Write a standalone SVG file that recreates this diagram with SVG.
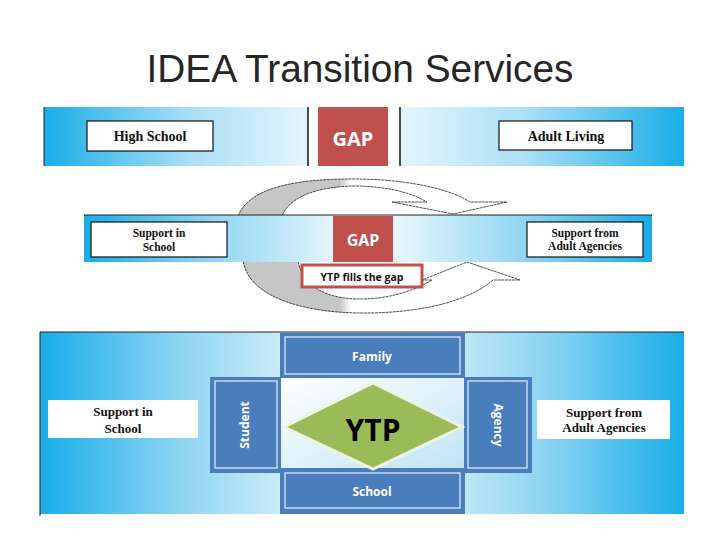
<svg xmlns="http://www.w3.org/2000/svg" width="720" height="540" viewBox="0 0 720 540">
<defs>
<linearGradient id="gL" x1="0" y1="0" x2="1" y2="0"><stop offset="0" stop-color="#18ade8"/><stop offset="0.55" stop-color="#a9dff5"/><stop offset="1" stop-color="#e4f5fc"/></linearGradient>
<linearGradient id="gR" x1="0" y1="0" x2="1" y2="0"><stop offset="0" stop-color="#e4f5fc"/><stop offset="0.45" stop-color="#a9dff5"/><stop offset="1" stop-color="#18ade8"/></linearGradient>
<linearGradient id="gM" x1="0" y1="0" x2="1" y2="0"><stop offset="0" stop-color="#18ade8"/><stop offset="0.22" stop-color="#8fd5f3"/><stop offset="0.45" stop-color="#e6f6fc"/><stop offset="0.55" stop-color="#e6f6fc"/><stop offset="0.78" stop-color="#8fd5f3"/><stop offset="1" stop-color="#18ade8"/></linearGradient>
<linearGradient id="gC" x1="0" y1="0" x2="1" y2="1"><stop offset="0" stop-color="#ffffff"/><stop offset="1" stop-color="#bfe4f5"/></linearGradient>
<linearGradient id="gArc" gradientUnits="userSpaceOnUse" x1="238" y1="0" x2="520" y2="0"><stop offset="0" stop-color="#c6c6c6"/><stop offset="0.36" stop-color="#c6c6c6"/><stop offset="0.4" stop-color="#ffffff"/><stop offset="1" stop-color="#ffffff"/></linearGradient>
</defs>
<style>
.title{font-family:"Liberation Sans",Arial,sans-serif;font-size:38px;fill:#262626}
.lbl{font-family:"Liberation Serif","DejaVu Serif",serif;font-weight:bold;fill:#111;text-anchor:middle}
.wb{font-family:"Open Sans","Liberation Sans",sans-serif;font-weight:bold;fill:#fff;text-anchor:middle}
.box{fill:#fff;stroke:#111;stroke-width:1.2}
.gap{fill:#c0504d}
.blk{fill:#4a7dbb}
.inr{fill:none;stroke:#c9d9ee;stroke-width:1.5}
.arc{stroke:#222;stroke-width:0.8;stroke-dasharray:3 0.6}
</style>
<text class="title" x="360" y="82" text-anchor="middle" textLength="427" lengthAdjust="spacingAndGlyphs">IDEA Transition Services</text>

<g id="top-band">
<rect x="44" y="107" width="264" height="59" fill="url(#gL)"/>
<rect x="400" y="107" width="284" height="59" fill="url(#gR)"/>
<line x1="44" y1="107" x2="44" y2="166" stroke="#222" stroke-width="1"/>
<line x1="308" y1="107" x2="308" y2="166" stroke="#111" stroke-width="1.5"/>
<line x1="400" y1="107" x2="400" y2="166" stroke="#111" stroke-width="1.5"/>
</g>
<g id="high-school"><rect class="box" x="87" y="121" width="126" height="30"/><text class="lbl" x="150" y="141" font-size="14">High School</text></g>
<g id="gap-top"><rect class="gap" x="318" y="107" width="70" height="59"/><text class="wb" x="353" y="146" font-size="20">GAP</text></g>
<g id="adult-living"><rect class="box" x="499" y="121" width="133" height="29"/><text class="lbl" x="566" y="141" font-size="14">Adult Living</text></g>

<g id="connectors">
<path class="arc" fill="url(#gArc)" d="M238,216 C250,186 300,179 353,179 C410,179 452,190 470,202 L507,202 L453,214 L392,202 L427,202 C410,192 385,186 353,186 C318,187 290,196 282,216 Z"/>
<path class="arc" fill="url(#gArc)" d="M243,258 C245,295 300,313 363,313 C425,313 470,300 493,280 L520,280 L467,262 L422,280 L432,280 C410,293 385,299 360,299 C325,299 300,285 298,258 Z"/>
</g>

<g id="mid-band">
<rect x="84" y="215" width="568" height="47" fill="url(#gM)"/>
<line x1="84" y1="215" x2="652" y2="215" stroke="#222" stroke-width="1"/>
</g>
<g id="support-school-2"><rect class="box" x="91" y="222" width="136" height="35"/><text class="lbl" font-size="11.5"><tspan x="159" y="237">Support in</tspan><tspan x="159" y="251">School</tspan></text></g>
<g id="gap-mid"><rect class="gap" x="333" y="216" width="60" height="46"/><text class="wb" x="363" y="246" font-size="16">GAP</text></g>
<g id="support-adult-2"><rect class="box" x="527" y="222" width="116" height="35"/><text class="lbl" font-size="11.5"><tspan x="585" y="237">Support from</tspan><tspan x="585" y="250">Adult Agencies</tspan></text></g>
<g id="ytp-fills"><rect x="302" y="265" width="120" height="22" fill="#fff" stroke="#c0504d" stroke-width="3"/><text class="wb" x="362" y="280.5" font-size="10.5" style="fill:#111">YTP fills the gap</text></g>

<g id="bottom-section">
<rect x="40" y="332" width="644" height="182" fill="url(#gM)"/>
<path d="M40,516 V332 H684" fill="none" stroke="#222" stroke-width="1"/>
<rect x="280" y="377" width="185" height="92" fill="url(#gC)"/>
</g>
<g id="family"><rect class="blk" x="280" y="333" width="185" height="45"/><rect class="inr" x="285" y="337" width="175" height="37"/><text class="wb" x="372" y="361" font-size="12">Family</text></g>
<g id="student"><rect class="blk" x="210" y="377" width="71" height="96"/><rect class="inr" x="215" y="381" width="62" height="87"/><text class="wb" font-size="12" transform="translate(249,425) rotate(-90)" x="0" y="0">Student</text></g>
<g id="agency"><rect class="blk" x="464" y="377" width="68" height="96"/><rect class="inr" x="468" y="381" width="59" height="87"/><text class="wb" font-size="12" transform="translate(494,425) rotate(90)" x="0" y="0">Agency</text></g>
<g id="school"><rect class="blk" x="280" y="468" width="185" height="46"/><rect class="inr" x="285" y="473" width="175" height="35"/><text class="wb" x="372" y="496" font-size="12">School</text></g>
<g id="ytp"><polygon points="284,427 373,383 462,427 373,469" fill="#9bbb59" stroke="#eef4e2" stroke-width="3"/><text x="373" y="441" font-family="'Open Sans','Liberation Sans',sans-serif" font-weight="bold" font-size="30" text-anchor="middle" fill="#000">YTP</text></g>
<g id="support-school-3"><rect x="48" y="400" width="150" height="38" fill="#fff"/><text class="lbl" font-size="13"><tspan x="123" y="416">Support in</tspan><tspan x="123" y="433">School</tspan></text></g>
<g id="support-adult-3"><rect x="537" y="400" width="133" height="39" fill="#fff"/><text class="lbl" font-size="13"><tspan x="604" y="417">Support from</tspan><tspan x="604" y="432">Adult Agencies</tspan></text></g>
</svg>
